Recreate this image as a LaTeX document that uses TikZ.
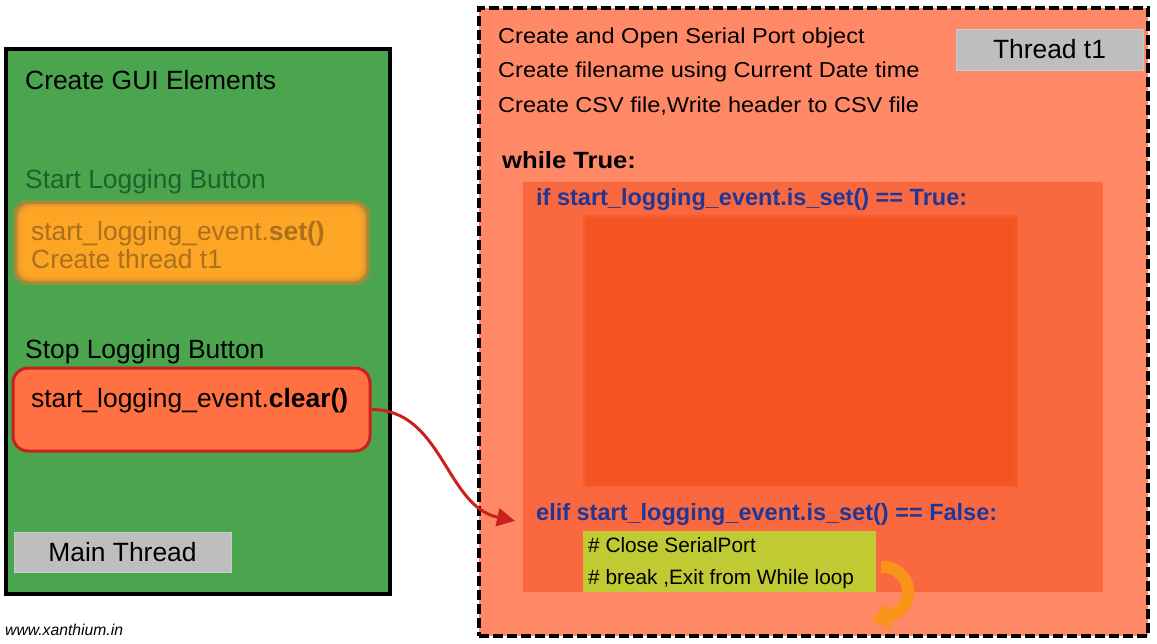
\documentclass[tikz,border=0pt]{standalone}
\usepackage{fontspec}
\setmainfont{Liberation Sans}
\newfontfamily\widefont[FakeStretch=1.09]{Liberation Sans}
\usetikzlibrary{arrows.meta}
\definecolor{guigreen}{RGB}{75,165,79}
\definecolor{startorange}{RGB}{255,168,38}
\definecolor{startedge}{RGB}{215,125,45}
\definecolor{startlabel}{RGB}{28,98,42}
\definecolor{starttext}{RGB}{172,112,28}
\definecolor{stopfill}{RGB}{255,112,67}
\definecolor{stopline}{RGB}{200,33,30}
\definecolor{taggray}{RGB}{190,190,190}
\definecolor{threadfill}{RGB}{255,137,102}
\definecolor{loopfill}{RGB}{249,104,62}
\definecolor{hotfill}{RGB}{244,82,32}
\definecolor{notefill}{RGB}{192,202,51}
\definecolor{condblue}{RGB}{33,55,150}
\definecolor{backorange}{RGB}{248,148,24}
\begin{document}
\begin{tikzpicture}[x=1pt,y=1pt,
  every node/.style={inner sep=0pt,anchor=base west},
  big/.style={font=\fontsize{26.4}{30}\selectfont},
  setup/.style={font=\widefont\fontsize{21.6}{26}\selectfont},
  cond/.style={font=\bfseries\fontsize{23.5}{28}\selectfont,text=condblue},
  note/.style={font=\fontsize{20.8}{25}\selectfont},
  guipanel/.style={anchor=center,draw=black,line width=4pt,fill=guigreen,minimum width=384pt,minimum height=545pt},
  stopbtn/.style={anchor=center,draw=stopline,line width=3pt,fill=stopfill,rounded corners=15pt,minimum width=357pt,minimum height=83pt},
  tag/.style={anchor=center,draw=taggray!80!white,fill=taggray,font=\fontsize{26.4}{30}\selectfont},
  threadpanel/.style={anchor=center,draw=black,line width=4pt,dash pattern=on 10pt off 4pt,fill=threadfill,minimum width=669pt,minimum height=628pt},
  loopbody/.style={anchor=center,fill=loopfill,minimum width=580pt,minimum height=410pt},
  notebox/.style={anchor=center,fill=notefill,minimum width=293pt,minimum height=61pt},
  linkarrow/.style={draw=stopline,line width=3pt,-{Triangle[length=18pt,width=18pt]}},
  loopback/.style={draw=backorange,line width=12pt}]
\useasboundingbox (0,0) rectangle (1157,-643);

% main thread
\node[guipanel] (gui) at (198,-321.5) {};
\node[big] (guititle) at (25,-89) {Create GUI Elements};
\foreach \d in {0,1.5,...,4.5}
  \fill[startedge,opacity=.4,rounded corners=14pt] ({13+\d},{-200-\d}) rectangle ({370-\d},{-285+\d});
\foreach \d in {4,5.5,...,10}
  \fill[startorange,opacity=.5,rounded corners=12pt] ({13+\d},{-200-\d}) rectangle ({370-\d},{-285+\d});
\node[big,text=startlabel] (startlbl) at (25,-188) {Start Logging Button};
\node[big,text=starttext] (startset) at (31,-240) {start\_logging\_event.\textbf{set()}};
\node[big,text=starttext] (startthr) at (31,-268) {Create thread t1};
\node[big] (stoplbl) at (25,-358) {Stop Logging Button};
\node[stopbtn] (clearbtn) at (191.5,-409.5) {};
\node[big] (cleartxt) at (31,-407) {start\_logging\_event.\textbf{clear()}};
\node[tag,minimum width=217pt,minimum height=40pt] (mainthr) at (122.5,-552) {Main Thread};
\node[font=\itshape\fontsize{15.7}{18}\selectfont] (site) at (5,-635) {www.xanthium.in};

% thread t1
\node[threadpanel] (thread) at (813.5,-322) {};
\node[tag,minimum width=187pt,minimum height=41pt] (t1tag) at (1049.5,-49.5) {Thread t1};
\node[setup] (openport) at (498,-43) {Create and Open Serial Port object};
\node[setup] (fname) at (498,-77) {Create filename using Current Date time};
\node[setup] (csvfile) at (498,-112) {Create CSV file,Write header to CSV file};
\node[font=\widefont\bfseries\fontsize{23.5}{28}\selectfont] (whileloop) at (502,-168) {while True:};
\node[loopbody] (body) at (813,-387) {};
\foreach \d in {0,1.5,...,7.5}
  \fill[hotfill,opacity=.45] ({583+\d},{-215-\d}) rectangle ({1018-\d},{-487+\d});
\node[cond] (ifset) at (536,-205) {if start\_logging\_event.is\_set() == True:};
\node[cond] (elif) at (536,-520) {elif start\_logging\_event.is\_set() == False:};
\node[notebox] (stepbox) at (729.5,-561.5) {};
\node[note] (closeport) at (588,-552) {\# Close SerialPort};
\node[note] (exitloop) at (588,-584) {\# break ,Exit from While loop};
\draw[loopback] (881,-567) arc[start angle=95,end angle=-80,radius=25];
\fill[backorange] (872,-620) -- (886.6,-602.5) -- (891.4,-630.5) -- cycle;

\draw[linkarrow] (clearbtn.east) to[out=0,in=168] ([xshift=-21pt,yshift=-7pt]elif.west);
\end{tikzpicture}
\end{document}
